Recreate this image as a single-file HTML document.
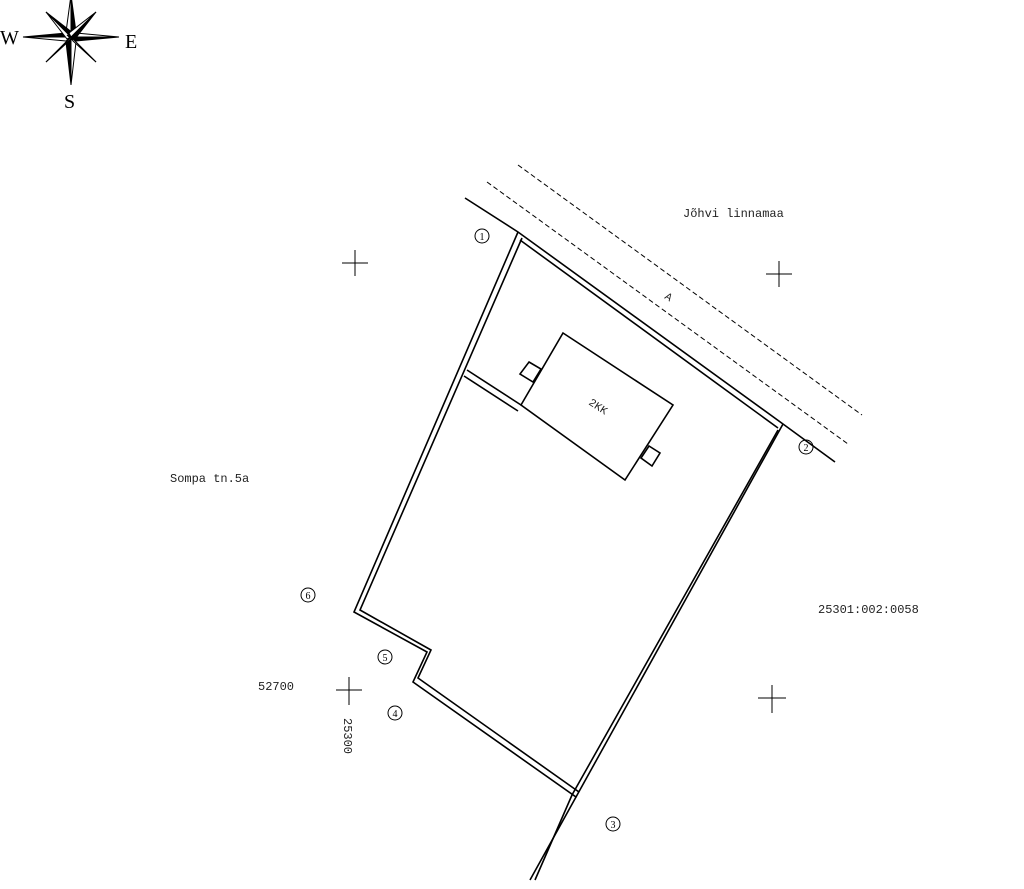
<!DOCTYPE html>
<html><head><style>
body{margin:0;background:#fff;}
svg{display:block}
.m{font-family:"Liberation Mono",monospace;fill:#222}
.s{font-family:"Liberation Serif",serif;fill:#000}
</style></head><body>
<svg width="1024" height="889" viewBox="0 0 1024 889" xmlns="http://www.w3.org/2000/svg">
<g stroke="#000" fill="none">
<g transform="translate(71,37)" stroke="#000" stroke-width="1">
<polygon points="0,-42 5,-5 0,0" fill="#000"/><polygon points="0,-42 -5,-5 0,0" fill="#fff"/>
<polygon points="0,48 -5,5 0,0" fill="#000"/><polygon points="0,48 5,5 0,0" fill="#fff"/>
<polygon points="-48,0 -5,-4 0,0" fill="#000"/><polygon points="-48,0 -5,4 0,0" fill="#fff"/>
<polygon points="48,0 5,4 0,0" fill="#000"/><polygon points="48,0 5,-4 0,0" fill="#fff"/>
<polygon points="-25,-25 2,-4 0,0" fill="#000"/><polygon points="-25,-25 -4,2 0,0" fill="#fff"/>
<polygon points="25,-25 4,2 0,0" fill="#000"/><polygon points="25,-25 -2,-4 0,0" fill="#fff"/>
<polygon points="-25,25 -2,4 0,0" fill="#000"/><polygon points="-25,25 4,-2 0,0" fill="#fff"/>
<polygon points="25,25 -4,-2 0,0" fill="#000"/><polygon points="25,25 2,4 0,0" fill="#fff"/>
</g>
<line x1="487" y1="182" x2="848" y2="444" stroke-dasharray="5,3" stroke-width="1"/>
<line x1="518" y1="165" x2="862" y2="415" stroke-dasharray="5,3" stroke-width="1"/>
<g stroke-width="1.6">
<polyline points="465,198 518,232 783,424 835,462"/>
<polyline points="520,240 778,428"/>
<polyline points="518,232 354,612 427,652 413,682 576,797 530,880"/>
<polyline points="522,238 360,610 431,650 418,678 579,792"/>
<polyline points="783,424 576,797"/>
<polyline points="778,430 572,795 535,880"/>
<polyline points="467,370 521,405"/>
<polyline points="464,376 518,411"/>
<polygon points="563,333 673,405 625,480 521,405"/>
<polygon points="529,362 541,369 533,382 520,374"/>
<polygon points="649,446 660,453 652,466 641,458"/>
</g>
<g stroke-width="1">
<path d="M342,263h26M355,250v26"/>
<path d="M766,274h26M779,261v26"/>
<path d="M758,698h28M772,685v28"/>
<path d="M336,690h26M349,677v28"/>
</g>
<g stroke-width="1">
<circle cx="482" cy="236" r="7"/><circle cx="806" cy="447" r="7"/>
<circle cx="613" cy="824" r="7"/><circle cx="395" cy="713" r="7"/>
<circle cx="385" cy="657" r="7"/><circle cx="308" cy="595" r="7"/>
</g>
</g>
<g font-size="10" text-anchor="middle" class="s">
<text x="482" y="240">1</text><text x="806" y="451">2</text><text x="613" y="828">3</text>
<text x="395" y="717">4</text><text x="385" y="661">5</text><text x="308" y="599">6</text>
</g>
<text class="s" x="0" y="44" font-size="20">W</text>
<text class="s" x="125" y="48" font-size="20">E</text>
<text class="s" x="64" y="108" font-size="20">S</text>
<text class="m" x="683" y="217" font-size="12">Jõhvi linnamaa</text>
<text class="m" x="170" y="482" font-size="12">Sompa tn.5a</text>
<text class="m" x="818" y="613" font-size="12">25301:002:0058</text>
<text class="m" x="258" y="690" font-size="12">52700</text>
<text class="m" x="0" y="0" font-size="12" transform="translate(344,718) rotate(90)">25300</text>
<text class="m" x="0" y="0" font-size="11" transform="translate(588,404) rotate(33)">2KK</text>
<text class="m" x="0" y="0" font-size="11" transform="translate(664,298) rotate(33)">A</text>
</svg>
</body></html>
